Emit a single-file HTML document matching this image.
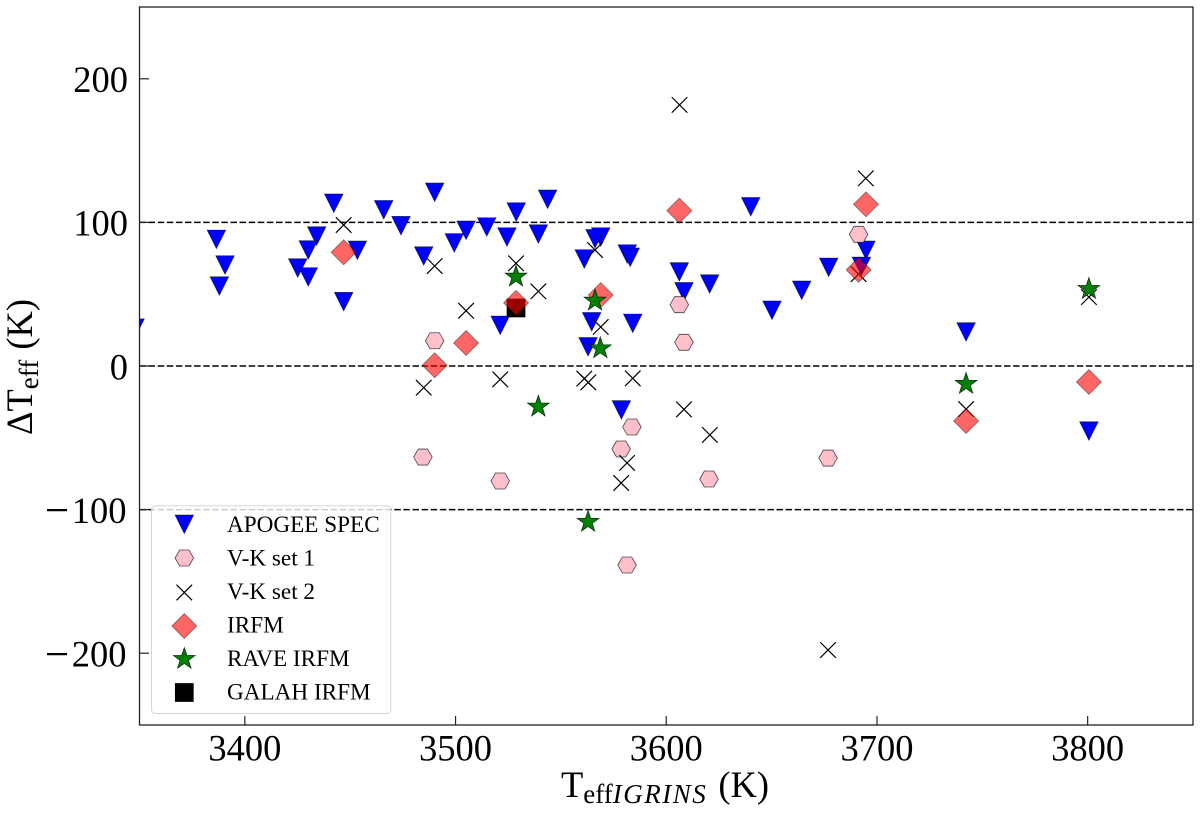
<!DOCTYPE html>
<html lang="en">
<head>
<meta charset="utf-8">
<title>Delta Teff vs Teff IGRINS</title>
<style>
html,body{margin:0;padding:0;background:#fff;width:1200px;height:813px;overflow:hidden}
svg{display:block}
text{font-family:"Liberation Serif","DejaVu Serif",serif;fill:#000}
</style>
</head>
<body>
<svg id="chart" xmlns="http://www.w3.org/2000/svg" width="1200" height="813" viewBox="0 0 1200 813">
  <defs><clipPath id="plot-clip"><rect x="139.5" y="7" width="1053.5" height="718"></rect></clipPath></defs>
  <g id="grid"></g>
  <g id="marks" clip-path="url(#plot-clip)"></g>
  <rect x="139.5" y="7" width="1053.5" height="718" fill="none" stroke="#222" stroke-width="1.3"></rect>
  <g id="x-ticks"></g>
  <g id="y-ticks"></g>
  <text x="561" y="797" font-size="36.5">T<tspan font-size="27" dy="6">eff</tspan><tspan font-size="27" font-style="italic" letter-spacing="1.5">IGRINS</tspan><tspan dy="-6" dx="2"> (K)</tspan></text>
  <text transform="translate(32,435) rotate(-90)" font-size="36.5">ΔT<tspan font-size="27" dy="6">eff</tspan><tspan dy="-6" dx="1"> (K)</tspan></text>
  <g id="legend">
    <rect x="151.5" y="505.7" width="239.3" height="207.8" rx="4" fill="#fff" fill-opacity="0.8" stroke="#d5d5d5" stroke-width="1"></rect>
    <g id="legend-markers"></g>
    <text x="227" y="532" font-size="23.2">APOGEE SPEC</text>
    <text x="227" y="565.5" font-size="23.2">V-K set 1</text>
    <text x="227" y="599" font-size="23.2">V-K set 2</text>
    <text x="227" y="632.5" font-size="23.2">IRFM</text>
    <text x="227" y="666" font-size="23.2">RAVE IRFM</text>
    <text x="227" y="699.5" font-size="23.2">GALAH IRFM</text>
  </g>
</svg>
<script>
const xTickValues = [3400, 3500, 3600, 3700, 3800];
const yTickValues = [-200, -100, 0, 100, 200];
const refLineValues = [100, 0, -100];

const apogeeX = [3347.9,3386.5,3390.6,3387.9,3434.1,3430.1,3425.1,3430.1,3442.2,3446.9,3453.4,3465.9,3474.1,3490.1,3484.9,3499.4,3505,3514.8,3524.4,3528.8,3521.2,3543.7,3539.3,3568.9,3566.2,3561.1,3581.5,3582.9,3606.2,3608.4,3620.6,3640.1,3650.2,3664.3,3677.1,3694.8,3692.6,3564.6,3584.1,3562.9,3578.7,3742.3,3800.6];
const apogeeY = [26.4,88.2,70.3,55.7,90.5,80.8,68.2,62,113.3,44.8,80.6,108.8,97.7,121,76.6,85.7,94.5,96.8,89.8,107.2,28.3,116.1,91.9,89.8,88.6,74.5,78,75.7,65.5,51.7,57.1,110.9,38.8,52.7,68.7,80.6,69.4,30.8,29.7,13.4,-30.6,23.7,-45.3];

const vkSet1X = [3490.1,3606.2,3608.4,3691.3,3484.5,3521.2,3578.6,3583.7,3581.4,3620.3,3676.8];
const vkSet1Y = [17.6,42.7,16.5,91.7,-63.4,-80.1,-57.8,-42.5,-138.6,-78.7,-64.1];

const vkSet2X = [3446.9,3490.1,3505,3484.9,3521.2,3528.7,3539.3,3566.2,3568.9,3561.1,3563,3584.1,3608.4,3694.7,3691.3,3606.3,3581.4,3578.6,3620.7,3676.8,3742.3,3800.6];
const vkSet2Y = [98.2,69.6,38.5,-15.1,-9.3,71.5,52,80.8,27.2,-8.8,-11.4,-8.6,-30.2,130.7,64,181.8,-67.5,-81.5,-48,-197.8,-30,48];

const galahX = [3528.7];
const galahY = [40.4];

const irfmX = [3446.9,3505,3490.1,3528.7,3606.2,3694.8,3691.3,3568.9,3742.3,3800.6];
const irfmY = [79.2,16,0.5,44,108.2,112.6,66.9,49.4,-38.3,-11.1];

const raveX = [3528.7,3566.2,3568.7,3539.3,3562.9,3742.3,3800.6];
const raveY = [62.2,45.5,12.3,-28.3,-108.6,-12.5,53.6];

const NS = 'http://www.w3.org/2000/svg';
const xDomain = [3350, 3850], xRange = [139.5, 1193];
const yDomain = [-250, 250], yRange = [725, 7];
function xScale(v){ return xRange[0] + (v - xDomain[0]) * (xRange[1] - xRange[0]) / (xDomain[1] - xDomain[0]); }
function yScale(v){ return yRange[0] + (v - yDomain[0]) * (yRange[1] - yRange[0]) / (yDomain[1] - yDomain[0]); }
function make(tag, attrs, parent){
  const el = document.createElementNS(NS, tag);
  for (const k in attrs) el.setAttribute(k, attrs[k]);
  parent.appendChild(el);
  return el;
}
function pts(list){ return list.map(p => p[0].toFixed(2) + ',' + p[1].toFixed(2)).join(' '); }

function drawTriangle(parent, cx, cy){
  return make('polygon', {points: pts([[cx-9.3,cy-9.3],[cx+9.3,cy-9.3],[cx,cy+9.3]]), fill:'#0000ff', stroke:'#000', 'stroke-width':0.7, 'stroke-opacity':0.6}, parent);
}
function drawHexagon(parent, cx, cy){
  const w = 9.3, h = 8;
  return make('polygon', {points: pts([[cx-w,cy],[cx-w/2,cy-h],[cx+w/2,cy-h],[cx+w,cy],[cx+w/2,cy+h],[cx-w/2,cy+h]]), fill:'#ffc0cb', stroke:'#000', 'stroke-width':0.8, 'stroke-opacity':0.7}, parent);
}
function drawCross(parent, cx, cy){
  const s = 7.8;
  return make('path', {d:`M${cx-s} ${cy-s}L${cx+s} ${cy+s}M${cx-s} ${cy+s}L${cx+s} ${cy-s}`, fill:'none', stroke:'#000', 'stroke-width':1.2}, parent);
}
function drawSquare(parent, cx, cy){
  return make('rect', {x:cx-9, y:cy-9, width:18, height:18, fill:'#000', stroke:'#000', 'stroke-width':0.7}, parent);
}
function drawDiamond(parent, cx, cy){
  const s = 12.5;
  return make('polygon', {points: pts([[cx-s,cy],[cx,cy-s],[cx+s,cy],[cx,cy+s]]), fill:'#ff0000', 'fill-opacity':0.6, stroke:'#000', 'stroke-opacity':0.5, 'stroke-width':0.7}, parent);
}
function drawStar(parent, cx, cy){
  const R = 11.5, r = 4.5, list = [];
  for (let i = 0; i < 10; i++){
    const a = -Math.PI/2 + i*Math.PI/5, q = i % 2 ? r : R;
    list.push([cx + q*Math.cos(a), cy + q*Math.sin(a)]);
  }
  return make('polygon', {points: pts(list), fill:'#008000', stroke:'#000', 'stroke-width':0.7, 'stroke-opacity':0.8}, parent);
}

const grid = document.getElementById('grid');
refLineValues.forEach(function(v){
  const line = make('line', {x1:xRange[0], x2:xRange[1], y1:yScale(v), y2:yScale(v), stroke:'#000', 'stroke-width':1.5, 'stroke-dasharray':'6.5 2.6'}, grid);
  
  
});

const xTicks = document.getElementById('x-ticks');
xTickValues.forEach(function(v){
  const tick = make('line', {x1:xScale(v), x2:xScale(v), y1:725, y2:716, stroke:'#222', 'stroke-width':1.2}, xTicks);
  
  
  const label = make('text', {x:xScale(v), y:760.5, 'font-size':36.5, 'text-anchor':'middle'}, xTicks);
  label.textContent = String(v);
  
  
});

const yTicks = document.getElementById('y-ticks');
yTickValues.forEach(function(v){
  const tick = make('line', {x1:139.5, x2:149, y1:yScale(v), y2:yScale(v), stroke:'#222', 'stroke-width':1.2}, yTicks);
  
  
  const label = make('text', {x:(v < 0 ? 126.5 : 128), y:yScale(v)+13.3, 'font-size':36.5, 'text-anchor':'end'}, yTicks);
  if (v < 0) {
    const minus = make('tspan', {'font-size':43, dy:1.8}, label);
    minus.textContent = '\u2212';
    const digits = make('tspan', {dy:-1.8, dx:2.5}, label);
    digits.textContent = String(Math.abs(v));
  } else {
    label.textContent = String(v);
  }
  
  
});

const marks = document.getElementById('marks');
apogeeX.forEach(function(v, i){
  const el = drawTriangle(marks, xScale(v), yScale(apogeeY[i]));
  
  
});
vkSet1X.forEach(function(v, i){
  const el = drawHexagon(marks, xScale(v), yScale(vkSet1Y[i]));
  
  
});
vkSet2X.forEach(function(v, i){
  const el = drawCross(marks, xScale(v), yScale(vkSet2Y[i]));
  
  
});
galahX.forEach(function(v, i){
  const el = drawSquare(marks, xScale(v), yScale(galahY[i]));
  
  
});
irfmX.forEach(function(v, i){
  const el = drawDiamond(marks, xScale(v), yScale(irfmY[i]));
  
  
});
raveX.forEach(function(v, i){
  const el = drawStar(marks, xScale(v), yScale(raveY[i]));
  
  
});

const lm = document.getElementById('legend-markers');
const lgTri = drawTriangle(lm, 184.3, 524.3);


const lgHex = drawHexagon(lm, 184.3, 558);


const lgCross = drawCross(lm, 184.3, 592.5);


const lgDia = drawDiamond(lm, 184.3, 626);


const lgStar = drawStar(lm, 184.3, 659);


const lgSq = drawSquare(lm, 184.3, 692.5);


</script>
</body>
</html>
